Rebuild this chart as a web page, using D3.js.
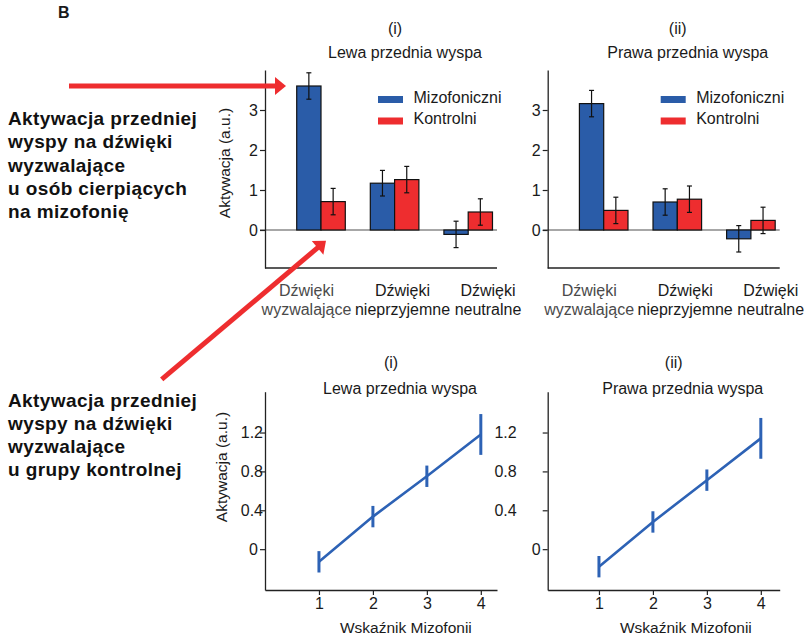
<!DOCTYPE html>
<html>
<head>
<meta charset="utf-8">
<script src="https://cdn.jsdelivr.net/npm/d3@7"></script>
<style>
body{margin:0;background:#fff;}
svg text{font-family:"Liberation Sans",Arial,sans-serif;fill:#1a1a1a;}
</style>
</head>
<body>
<svg id="chart" width="808" height="639"></svg>
<script>
"use strict";
//----------------------------------------
//Data
var soundCategories = ["wyzwalające","nieprzyjemne","neutralne"],
    groupNames = ["Mizofoniczni","Kontrolni"],
    barTicks = [0,1,2,3],
    leftMiso = [3.60,1.17,-0.11], leftMisoErr = [0.33,0.32,0.33],
    leftCtrl = [0.71,1.26,0.45], leftCtrlErr = [0.33,0.33,0.33],
    rightMiso = [3.16,0.70,-0.22], rightMisoErr = [0.33,0.33,0.33],
    rightCtrl = [0.49,0.77,0.24], rightCtrlErr = [0.33,0.33,0.33],
    misoIndex = [1,2,3,4],
    lineTicks = [0,0.4,0.8,1.2],
    leftSlope = [-0.13,0.335,0.75,1.18], leftSlopeErr = [0.11,0.11,0.11,0.21],
    rightSlope = [-0.18,0.28,0.71,1.14], rightSlopeErr = [0.11,0.11,0.11,0.21],
    noteMiso = ["Aktywacja przedniej","wyspy na dźwięki","wyzwalające","u osób cierpiących","na mizofonię"],
    noteCtrl = ["Aktywacja przedniej","wyspy na dźwięki","wyzwalające","u grupy kontrolnej"];

var colours = {
    blue : "#2a5ca8",
    red : "#ee2d2f",
    line : "#2d62b5",
    axis : "#222",
    zero : "#8a8a8a",
    arrow : "#ee2d2f"
};

var svg = d3.select("#chart");

//----------------------------------------
//Helper functions:

var styleAxis = function(axisG){
    axisG.select(".domain").attr("stroke",colours.axis).attr("stroke-width",1.3);
    axisG.selectAll(".tick line").attr("stroke",colours.axis).attr("stroke-width",1.2);
    axisG.selectAll(".tick text").style("font-size","16px").attr("fill","#1a1a1a");
};

var drawBarPanel = function(p){
    var g = svg.append("g");
    var y = d3.scaleLinear().domain([-0.95,4.0]).range([268,70]);
    var x = d3.scaleBand().domain(soundCategories)
        .range([p.x0 + 19.2, p.x0 + 240]).paddingInner(0.34).paddingOuter(0.17);
    var xg = d3.scaleBand().domain(groupNames).range([0,x.bandwidth()]);
    var rows = soundCategories.map(function(c,i){
        return {cat:c, vals:[
            {g:groupNames[0], v:p.miso[i], e:p.misoErr[i]},
            {g:groupNames[1], v:p.ctrl[i], e:p.ctrlErr[i]}
        ]};
    });

    //zero line behind the bars
    g.append("line")
        .attr("x1",p.x0 - 5).attr("x2",p.x0 + 232)
        .attr("y1",y(0)).attr("y2",y(0))
        .attr("stroke",colours.zero).attr("stroke-width",1.5);

    var grp = g.selectAll(".grp").data(rows).enter().append("g")
        .attr("class","grp")
        .attr("transform",d=>"translate(" + x(d.cat) + ",0)");

    grp.selectAll("rect").data(d=>d.vals).enter().append("rect")
        .attr("x",d=>xg(d.g))
        .attr("width",xg.bandwidth())
        .attr("y",d=>y(Math.max(0,d.v)))
        .attr("height",d=>Math.abs(y(d.v) - y(0)))
        .attr("fill",(d,i)=>i ? colours.red : colours.blue)
        .attr("stroke","#111").attr("stroke-width",1.2);

    //error bars
    var err = grp.selectAll(".err").data(d=>d.vals).enter().append("g")
        .attr("class","err")
        .attr("transform",d=>"translate(" + (xg(d.g) + xg.bandwidth() / 2) + ",0)");
    err.append("line")
        .attr("y1",d=>y(d.v + d.e)).attr("y2",d=>y(d.v - d.e))
        .attr("stroke","#111").attr("stroke-width",1.2);
    err.selectAll(".cap").data(d=>[d.v + d.e,d.v - d.e]).enter().append("line")
        .attr("x1",-2.5).attr("x2",2.5)
        .attr("y1",d=>y(d)).attr("y2",d=>y(d))
        .attr("stroke","#111").attr("stroke-width",1.2);

    //axes
    var yAxisG = g.append("g")
        .attr("transform","translate(" + p.x0 + ",0)")
        .call(d3.axisLeft(y).tickValues(barTicks).tickFormat(d3.format("d"))
              .tickSize(5).tickSizeOuter(0).tickPadding(2));
    styleAxis(yAxisG);
    g.append("line")
        .attr("x1",p.x0).attr("x2",p.x0 + 232)
        .attr("y1",268).attr("y2",268)
        .attr("stroke",colours.axis).attr("stroke-width",1.3);

    //category labels (not evenly spaced in the original)
    var lx = d3.scaleOrdinal().domain(soundCategories).range([p.x0 + 41.5,p.x0 + 137.5,p.x0 + 223]);
    var lab = g.selectAll(".catLabel").data(soundCategories).enter().append("text")
        .attr("class","catLabel")
        .attr("text-anchor","middle")
        .style("font-size","16px")
        .style("fill",(d,i)=>i ? "#1a1a1a" : "#4a4a4a");
    lab.append("tspan").attr("x",d=>lx(d)).attr("y",296).text("Dźwięki");
    lab.append("tspan").attr("x",d=>lx(d)).attr("y",315).text(d=>d);

    //legend
    var leg = g.selectAll(".leg").data(groupNames).enter().append("g")
        .attr("transform",(d,i)=>"translate(" + (p.x0 + 113) + "," + (96 + i * 21.5) + ")");
    leg.append("rect").attr("width",25).attr("height",7)
        .attr("fill",(d,i)=>i ? colours.red : colours.blue);
    leg.append("text").attr("x",35.5).attr("y",6.5).style("font-size","16px").text(d=>d);

    //titles
    g.append("text").attr("x",p.x0 + 130).attr("y",34).attr("text-anchor","middle")
        .style("font-size","16px").text(p.roman);
    g.append("text").attr("x",p.x0 + 140).attr("y",58).attr("text-anchor","middle")
        .style("font-size","16px").text(p.title);

    if(p.yLabel){
        g.append("text").attr("transform","translate(230,163) rotate(-90)")
            .attr("text-anchor","middle").style("font-size","15.5px").text("Aktywacja (a.u.)");
    }
};

var drawLinePanel = function(p){
    var g = svg.append("g");
    var y = d3.scaleLinear().domain([-0.42,1.62]).range([590,391.7]);
    var x = d3.scaleLinear().domain(p.xDomain).range([p.x0,p.x0 + 232]);
    var pts = misoIndex.map((m,i)=>({m:m, v:p.vals[i], e:p.errs[i]}));

    var yAxisG = g.append("g")
        .attr("transform","translate(" + p.x0 + ",0)")
        .call(d3.axisLeft(y).tickValues(lineTicks).tickSize(5).tickSizeOuter(0).tickPadding(2)
              .tickFormat(d=>d === 0 ? "0" : d3.format(".1f")(d)));
    styleAxis(yAxisG);
    yAxisG.selectAll(".tick text").attr("dx",d=>d === 0 ? 0 : p.labelShift);

    var xAxisG = g.append("g")
        .attr("transform","translate(0,590)")
        .call(d3.axisBottom(x).tickValues(misoIndex).tickFormat(d3.format("d"))
              .tickSize(5).tickSizeOuter(0).tickPadding(3));
    styleAxis(xAxisG);

    g.append("path").datum(pts)
        .attr("d",d3.line().x(d=>x(d.m)).y(d=>y(d.v)))
        .attr("fill","none").attr("stroke",colours.line).attr("stroke-width",2.6);
    g.selectAll(".err").data(pts).enter().append("line")
        .attr("x1",d=>x(d.m)).attr("x2",d=>x(d.m))
        .attr("y1",d=>y(d.v + d.e)).attr("y2",d=>y(d.v - d.e))
        .attr("stroke",colours.line).attr("stroke-width",3);

    g.append("text").attr("x",p.x0 + 126).attr("y",368).attr("text-anchor","middle")
        .style("font-size","16px").text(p.roman);
    g.append("text").attr("x",p.x0 + 135).attr("y",394).attr("text-anchor","middle")
        .style("font-size","16px").text(p.title);
    g.append("text").attr("x",x(2.5) + 6).attr("y",633).attr("text-anchor","middle")
        .style("font-size","15.5px").text("Wskaźnik Mizofonii");

    if(p.yLabel){
        g.append("text").attr("transform","translate(227,467) rotate(-90)")
            .attr("text-anchor","middle").style("font-size","15.5px").text("Aktywacja (a.u.)");
    }
};

var drawArrow = function(x1,y1,x2,y2){
    var ang = Math.atan2(y2 - y1,x2 - x1),
        headLen = 11, headHalf = 9,
        bx = x2 - headLen * Math.cos(ang), by = y2 - headLen * Math.sin(ang),
        nx = -Math.sin(ang), ny = Math.cos(ang);
    svg.append("line")
        .attr("x1",x1).attr("y1",y1).attr("x2",bx + Math.cos(ang)).attr("y2",by + Math.sin(ang))
        .attr("stroke",colours.arrow).attr("stroke-width",5);
    svg.append("polygon")
        .attr("points",[[x2,y2],[bx + nx * headHalf,by + ny * headHalf],[bx - nx * headHalf,by - ny * headHalf]].join(" "))
        .attr("fill",colours.arrow);
};

var drawNote = function(lines,yStart){
    var t = svg.append("text").style("font-size","19px").style("font-weight","bold")
        .style("letter-spacing","0.4px").style("fill","#111");
    t.selectAll("tspan").data(lines).enter().append("tspan")
        .attr("x",8).attr("y",(d,i)=>yStart + i * 23.3).text(d=>d);
};

//----------------------------------------
//Draw
svg.append("text").attr("x",58).attr("y",18.3).style("font-size","16px").style("font-weight","bold").text("B");

drawBarPanel({x0:265, roman:"(i)", title:"Lewa przednia wyspa", yLabel:true,
              miso:leftMiso, misoErr:leftMisoErr, ctrl:leftCtrl, ctrlErr:leftCtrlErr});
drawBarPanel({x0:547.7, roman:"(ii)", title:"Prawa przednia wyspa", yLabel:false,
              miso:rightMiso, misoErr:rightMisoErr, ctrl:rightCtrl, ctrlErr:rightCtrlErr});

drawLinePanel({x0:265, xDomain:[0,4.3], roman:"(i)", title:"Lewa przednia wyspa", yLabel:true,
               labelShift:5, vals:leftSlope, errs:leftSlopeErr});
drawLinePanel({x0:547.7, xDomain:[0.05,4.35], roman:"(ii)", title:"Prawa przednia wyspa", yLabel:false,
               labelShift:-24, vals:rightSlope, errs:rightSlopeErr});

drawNote(noteMiso,125);
drawNote(noteCtrl,406.5);

drawArrow(69,86,286,86);
drawArrow(161.7,379.3,326,240.7);
</script>
</body>
</html>
